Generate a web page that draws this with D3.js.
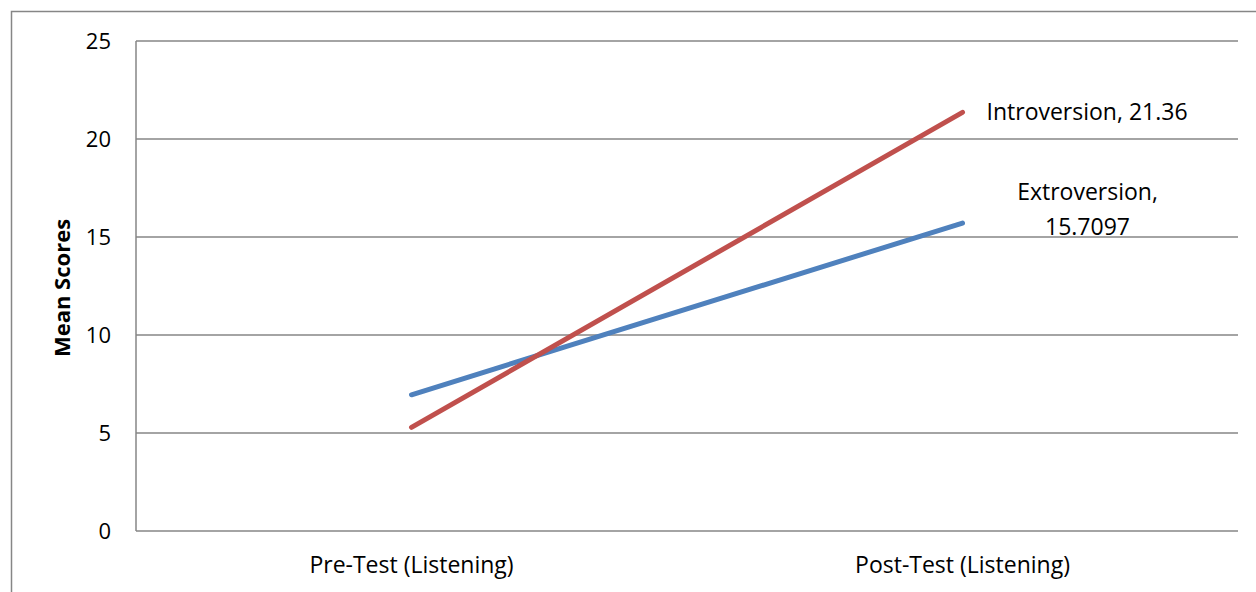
<!DOCTYPE html>
<html>
<head>
<meta charset="utf-8">
<script src="https://cdn.jsdelivr.net/npm/d3@7"></script>
<style>
  body { margin: 0; background: #fff; }
  svg text { font-family: 'Open Sans', sans-serif; fill: #000; }
</style>
</head>
<body>
<div id="chart"></div>
<script>
const categories = ['Pre-Test (Listening)', 'Post-Test (Listening)']
const extroversion = [6.95, 15.7097]
const introversion = [5.29, 21.36]
const yTicks = [0, 5, 10, 15, 20, 25]

const series = [
  { key: 'Extroversion', values: extroversion, color: '#4F81BD' },
  { key: 'Introversion', values: introversion, color: '#C0504D' }
]

const width = 1256
const height = 592
const margin = { top: 41, right: 18, bottom: 61, left: 136 }
const plotW = width - margin.left - margin.right
const plotH = height - margin.top - margin.bottom
const fontSize = '23px'

const svg = d3.select('#chart').append('svg')
  .attr('width', width)
  .attr('height', height)

// outer chart frame (runs off the right and bottom edge)
svg.append('rect')
  .attr('x', 11.5).attr('y', 11.5)
  .attr('width', width + 20).attr('height', height + 20)
  .attr('fill', 'none')
  .attr('stroke', '#868686')
  .attr('stroke-width', 1.5)

const scaleX = d3.scaleBand().domain(categories).range([0, plotW])
const scaleY = d3.scaleLinear().domain([0, 25]).range([plotH, 0])

const g = svg.append('g').attr('transform', `translate(${margin.left}, ${margin.top})`)

// gridlines
g.append('g').selectAll('line')
  .data(yTicks)
  .join('line')
  .attr('x1', 0).attr('x2', plotW)
  .attr('y1', d => scaleY(d)).attr('y2', d => scaleY(d))
  .attr('stroke', '#868686')
  .attr('stroke-width', 1.5)

// y axis line
g.append('line')
  .attr('x1', 0).attr('x2', 0)
  .attr('y1', 0).attr('y2', plotH)
  .attr('stroke', '#868686')
  .attr('stroke-width', 1.5)

const axisLeft = d3.axisLeft(scaleY).tickValues(yTicks).tickSize(0).tickPadding(25)
const yAxis = g.append('g').call(axisLeft)
yAxis.select('.domain').remove()
yAxis.selectAll('text').style('font-size', '22px').style('font-family', "'Open Sans', sans-serif")

const axisBottom = d3.axisBottom(scaleX).tickSize(0).tickPadding(26)
const xAxis = g.append('g').attr('transform', `translate(0, ${plotH})`).call(axisBottom)
xAxis.select('.domain').remove()
xAxis.selectAll('text').style('font-size', fontSize).style('font-family', "'Open Sans', sans-serif")

svg.append('text')
  .attr('transform', `translate(70, ${margin.top + plotH / 2 + 2}) rotate(-90)`)
  .attr('text-anchor', 'middle')
  .style('font-size', '22px')
  .style('font-weight', 'bold')
  .text('Mean Scores')

const line = d3.line()
  .x((d, i) => scaleX(categories[i]) + scaleX.bandwidth() / 2)
  .y(d => scaleY(d))

g.selectAll('.series')
  .data(series)
  .join('path')
  .attr('class', 'series')
  .attr('d', d => line(d.values))
  .attr('fill', 'none')
  .attr('stroke', d => d.color)
  .attr('stroke-width', 5)
  .attr('stroke-linecap', 'round')

// data labels at the post-test points
const lastX = scaleX(categories[1]) + scaleX.bandwidth() / 2

g.append('text')
  .attr('x', lastX + 24)
  .attr('y', scaleY(introversion[1]) + 8)
  .style('font-size', fontSize)
  .text(`Introversion, ${introversion[1]}`)

const extroLabel = g.append('text')
  .attr('text-anchor', 'middle')
  .style('font-size', fontSize)
extroLabel.append('tspan')
  .attr('x', lastX + 125)
  .attr('y', scaleY(extroversion[1]) - 23)
  .text('Extroversion,')
extroLabel.append('tspan')
  .attr('x', lastX + 125)
  .attr('y', scaleY(extroversion[1]) + 12)
  .text(extroversion[1])
</script>
</body>
</html>
